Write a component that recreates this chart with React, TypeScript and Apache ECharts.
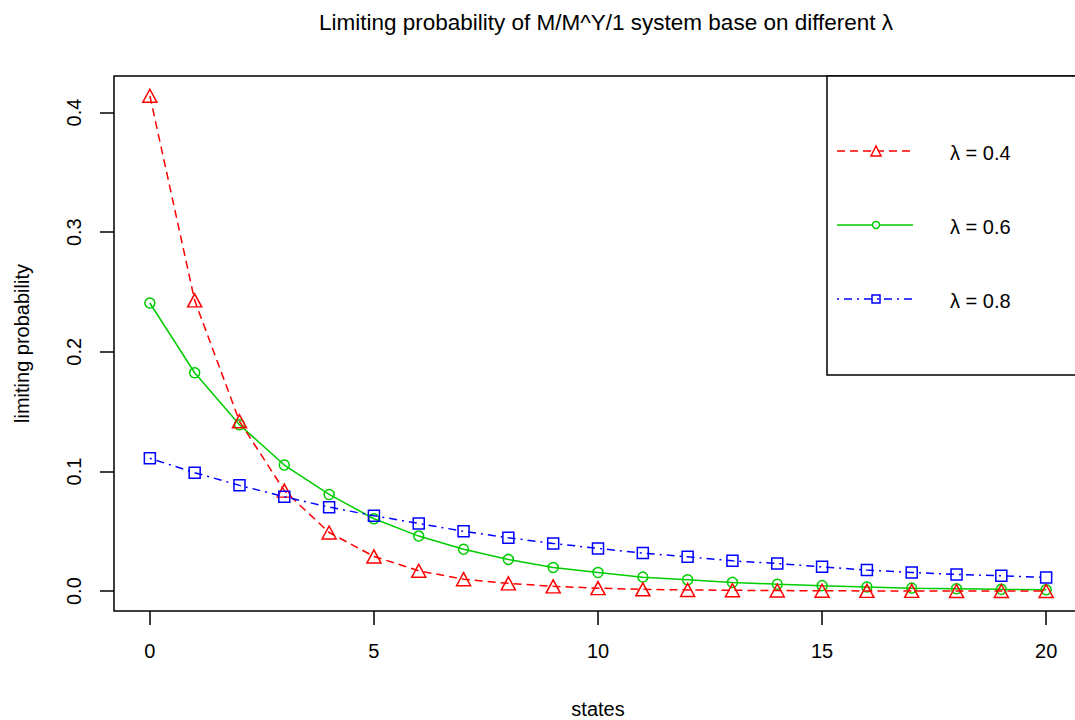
import React, { useEffect, useRef } from "react";
import * as echarts from "echarts";

const states = [0, 1, 2, 3, 4, 5, 6, 7, 8, 9, 10, 11, 12, 13, 14, 15, 16, 17, 18, 19, 20];
const lambda04 = [0.414, 0.243, 0.142, 0.084, 0.049, 0.029, 0.017, 0.010, 0.0065, 0.004, 0.0025, 0.0015, 0.001, 0.0007, 0.0005, 0.0003, 0.0002, 0.0002, 0.0001, 0.0001, 0.0001];
const lambda06 = [0.2408, 0.1825, 0.139, 0.1054, 0.0808, 0.0605, 0.046, 0.035, 0.0265, 0.0198, 0.0156, 0.0117, 0.0095, 0.0073, 0.0058, 0.0046, 0.0035, 0.0025, 0.002, 0.0015, 0.0012];
const lambda08 = [0.111, 0.099, 0.0884, 0.0789, 0.0702, 0.063, 0.0566, 0.050, 0.0446, 0.0399, 0.0357, 0.0318, 0.0287, 0.0253, 0.0231, 0.0203, 0.0176, 0.0156, 0.014, 0.0128, 0.0115];
const xTicks = [0, 5, 10, 15, 20];
const yTicks = [0, 0.1, 0.2, 0.3, 0.4];
const legendLabels = ["λ = 0.4", "λ = 0.6", "λ = 0.8"];

const FONT = "'Liberation Sans', Arial, sans-serif";
const RED = "#FF0000";
const GREEN = "#00CD00";
const BLUE = "#0000FF";

export default function App() {
  const ref = useRef<HTMLDivElement>(null);
  useEffect(() => {
    if (!ref.current) return;
    const chart = echarts.init(ref.current, undefined, { renderer: "svg" });
    const pairs = (arr: number[]) => states.map((s, i) => [s, arr[i]]);
    const axisCommon = {
      type: "value" as const,
      splitLine: { show: false },
      axisLine: { show: false, onZero: false },
    };
    chart.setOption({
      animation: false,
      backgroundColor: "#ffffff",
      title: {
        text: "Limiting probability of M/M^Y/1 system base on different λ",
        left: 601,
        top: 6,
        textAlign: "center",
        textStyle: { fontFamily: FONT, fontSize: 22.5, fontWeight: "normal", color: "#000" },
      },
      grid: {
        left: 114,
        top: 76,
        width: 968,
        height: 535,
        outerBoundsMode: "none",
        containLabel: false,
        show: true,
        borderColor: "#000",
        borderWidth: 1.5,
        backgroundColor: "transparent",
      },
      xAxis: {
        ...axisCommon,
        min: -0.8,
        max: 20.8,
        name: "states",
        nameLocation: "middle",
        nameGap: 88,
        nameTextStyle: { fontFamily: FONT, fontSize: 20, color: "#000" },
        axisTick: { show: true, inside: false, length: 14, customValues: xTicks, lineStyle: { color: "#000", width: 1.5 } },
        axisLabel: { customValues: xTicks, fontFamily: FONT, fontSize: 20, color: "#000", margin: 30 },
      },
      yAxis: {
        ...axisCommon,
        min: -0.0166,
        max: 0.4305,
        name: "limiting probability",
        nameLocation: "middle",
        nameGap: 82,
        nameTextStyle: { fontFamily: FONT, fontSize: 20, color: "#000" },
        axisTick: { show: true, inside: false, length: 14, customValues: yTicks, lineStyle: { color: "#000", width: 1.5 } },
        axisLabel: {
          customValues: yTicks,
          rotate: 90,
          fontFamily: FONT,
          fontSize: 20,
          color: "#000",
          margin: 30,
          formatter: (v: number) => v.toFixed(1),
        },
      },
      series: [
        {
          name: legendLabels[0],
          type: "line",
          data: pairs(lambda04),
          symbol: "triangle",
          symbolSize: [14, 13],
          lineStyle: { color: RED, width: 1.5, type: [8, 5] },
          itemStyle: { color: "rgba(255,255,255,0)", borderColor: RED, borderWidth: 1.5 },
          z: 3,
        },
        {
          name: legendLabels[1],
          type: "line",
          data: pairs(lambda06),
          symbol: "circle",
          symbolSize: 10,
          lineStyle: { color: GREEN, width: 1.5, type: "solid" },
          itemStyle: { color: "rgba(255,255,255,0)", borderColor: GREEN, borderWidth: 1.5 },
          z: 2,
        },
        {
          name: legendLabels[2],
          type: "line",
          data: pairs(lambda08),
          symbol: "rect",
          symbolSize: 11,
          lineStyle: { color: BLUE, width: 1.5, type: [2, 5, 8, 5] },
          itemStyle: { color: "rgba(255,255,255,0)", borderColor: BLUE, borderWidth: 1.5 },
          z: 4,
        },
      ],
      graphic: [
        {
          type: "rect",
          shape: { x: 827, y: 76, width: 300, height: 299 },
          style: { fill: "#fff", stroke: "#000", lineWidth: 1.5 },
          z: 10,
        },
        { type: "line", shape: { x1: 837, y1: 151, x2: 913, y2: 151 }, style: { stroke: RED, lineWidth: 1.5, lineDash: [8, 5] }, z: 11 },
        { type: "polygon", shape: { points: [[876, 146], [871, 156], [881, 156]] }, style: { fill: "#fff", stroke: RED, lineWidth: 1.5 }, z: 12 },
        { type: "text", x: 950, y: 153, style: { text: legendLabels[0], font: `20px ${FONT}`, fill: "#000", textVerticalAlign: "middle" }, z: 12 },
        { type: "line", shape: { x1: 837, y1: 225, x2: 913, y2: 225 }, style: { stroke: GREEN, lineWidth: 1.5 }, z: 11 },
        { type: "circle", shape: { cx: 876, cy: 225, r: 3.5 }, style: { fill: "#fff", stroke: GREEN, lineWidth: 1.5 }, z: 12 },
        { type: "text", x: 950, y: 227, style: { text: legendLabels[1], font: `20px ${FONT}`, fill: "#000", textVerticalAlign: "middle" }, z: 12 },
        { type: "line", shape: { x1: 837, y1: 299, x2: 913, y2: 299 }, style: { stroke: BLUE, lineWidth: 1.5, lineDash: [2, 5, 8, 5] }, z: 11 },
        { type: "rect", shape: { x: 872, y: 295, width: 8, height: 8 }, style: { fill: "rgba(255,255,255,0)", stroke: BLUE, lineWidth: 1.5 }, z: 12 },
        { type: "text", x: 950, y: 301, style: { text: legendLabels[2], font: `20px ${FONT}`, fill: "#000", textVerticalAlign: "middle" }, z: 12 },
      ],
    });
    return () => chart.dispose();
  }, []);
  return (
    <div
      ref={ref}
      style={{ position: "fixed", left: 0, top: 0, width: 1075, height: 720, background: "#fff" }}
    />
  );
}
